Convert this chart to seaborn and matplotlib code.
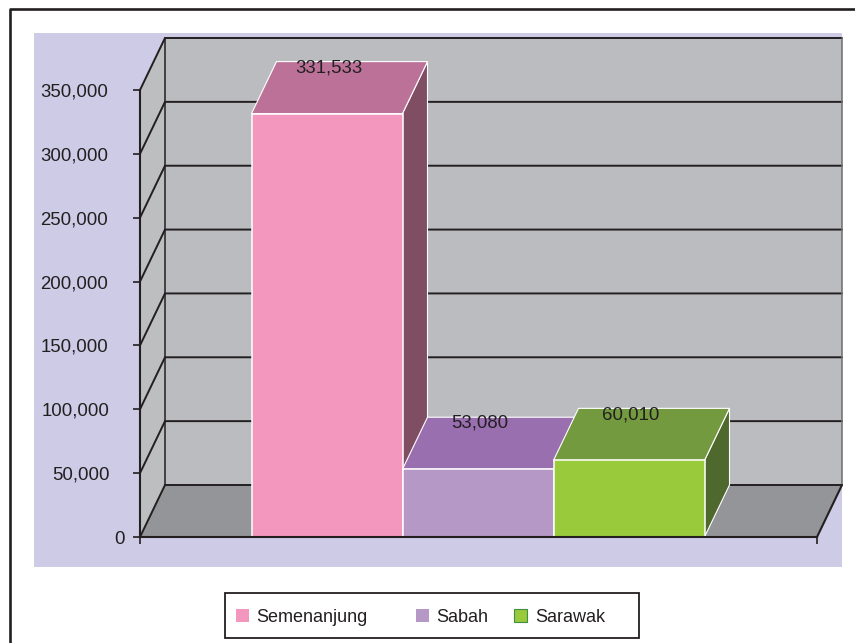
import matplotlib
matplotlib.use('Agg')
import matplotlib.pyplot as plt
from matplotlib.lines import Line2D
from matplotlib.patches import Polygon, Rectangle
import seaborn as sns

# Values
regions = ['Semenanjung', 'Sabah', 'Sarawak']
values = [331533, 53080, 60010]
y_ticks = [0, 50000, 100000, 150000, 200000, 250000, 300000, 350000]
y_pads = [6, 17, 17, 18, 18, 18, 18, 18]

front_colors = ['#F497BE', '#B598C6', '#99CA3C']
top_colors = ['#BC7298', '#9A6FB0', '#739A3F']
side_colors = ['#804E63', '#6E4F80', '#4F682D']

W, H = 855, 643
INK = '#231F20'

sns.set_style('white')
plt.rcParams['font.family'] = ['Liberation Sans', 'DejaVu Sans']


def fx(px):
    return px / W


def fy(py):
    return 1 - py / H


fig = plt.figure(figsize=(W / 100, H / 100), dpi=100)
fig.patch.set_facecolor('white')

# Front plane of the 3D box, the walls stick out from it
ax = fig.add_axes([fx(140), fy(537), fx(817 - 140), (537 - 90) / H])
ax.patch.set_visible(False)

# Lavender plot background
fig.add_artist(Rectangle((fx(34), fy(567)), fx(842 - 34), (567 - 33) / H,
                         transform=fig.transFigure, facecolor='#CDCBE6',
                         edgecolor='none', zorder=-1))

# Outer frame, open to the right and bottom
fig.add_artist(Line2D([fx(10), fx(10), fx(855)], [fy(643), fy(9), fy(9)],
                      transform=fig.transFigure, color=INK, lw=1.9, zorder=-1))

# Bars first, they set the category positions
sns.barplot(x=regions, y=values, hue=regions, palette=front_colors, width=1,
            dodge=False, saturation=1, legend=False, edgecolor='white',
            linewidth=1.1, ax=ax)
bars = sorted(ax.patches, key=lambda b: b.get_x())

px_per_cat = 151
x0 = (140 - 327) / px_per_cat
x1 = (817 - 327) / px_per_cat
y_max = y_ticks[-1]
ax.set_xlim(x0, x1)
ax.set_ylim(0, y_max)

# Depth of the box in data units
dx = 25 / px_per_cat
dy = 52 / (537 - 90) * y_max

# Walls and floor
ax.add_patch(Polygon([(x0 + dx, dy), (x1 + dx, dy), (x1 + dx, y_max + dy), (x0 + dx, y_max + dy)],
                     facecolor='#BBBCBF', edgecolor='none', zorder=1, clip_on=False))
ax.add_patch(Polygon([(x0, 0), (x0 + dx, dy), (x0 + dx, y_max + dy), (x0, y_max)],
                     facecolor='#BDBEC0', edgecolor='none', zorder=1, clip_on=False))
ax.add_patch(Polygon([(x0, 0), (x1, 0), (x1 + dx, dy), (x0 + dx, dy)],
                     facecolor='#939598', edgecolor='none', zorder=1, clip_on=False))

# Grid lines, running along the left wall then the back wall
for v in y_ticks:
    ax.plot([x0, x0 + dx, x1 + dx], [v, v + dy, v + dy], color=INK, lw=1.4,
            zorder=2, clip_on=False, solid_joinstyle='miter')
ax.plot([x0 + dx, x0 + dx], [dy, y_max + dy], color=INK, lw=1.1, zorder=2, clip_on=False)
ax.plot([x1 + dx, x1 + dx], [dy, y_max + dy], color='#6D6E71', lw=1.1, zorder=2, clip_on=False)
ax.plot([x1, x1 + dx], [0, dy], color=INK, lw=1.5, zorder=2, clip_on=False)

# Top and side faces taken from the bars seaborn drew, left to right
for i, bar in enumerate(bars):
    left = bar.get_x()
    right = left + bar.get_width()
    top = bar.get_height()
    base_z = 3 + i
    bar.set_zorder(base_z + 0.2)
    ax.add_patch(Polygon([(right, 0), (right + dx, dy), (right + dx, top + dy), (right, top)],
                         facecolor=side_colors[i], edgecolor='white', lw=0.8,
                         zorder=base_z, clip_on=False))
    ax.add_patch(Polygon([(left, top), (right, top), (right + dx, top + dy), (left + dx, top + dy)],
                         facecolor=top_colors[i], edgecolor='white', lw=0.8,
                         zorder=base_z + 0.1, clip_on=False))
    ax.annotate(f'{values[i]:,}', xy=(left + bar.get_width() / 2, top + dy),
                xytext=(1.5, -4.5), textcoords='offset points', ha='center', va='center',
                fontsize=13.4, color=INK, zorder=10, annotation_clip=False)

# Axes
sns.despine(ax=ax, top=True, right=True)
for side in ['left', 'bottom']:
    ax.spines[side].set_color(INK)
    ax.spines[side].set_linewidth(1.5)
    ax.spines[side].set_zorder(9)
ax.set_yticks(y_ticks, [f'{v:,}' for v in y_ticks])
ax.set_xticks([x0, x1], ['', ''])
ax.tick_params(axis='both', length=5, width=1.2, color=INK, left=True, bottom=True,
               labelsize=13.4, labelcolor=INK)
for tick, pad in zip(ax.yaxis.get_major_ticks(), y_pads):
    tick.set_pad(pad)
ax.set_xlabel('')
ax.set_ylabel('')

# Legend box, spacing in the original is uneven so it is placed by hand
fig.add_artist(Rectangle((fx(225), fy(638)), fx(639 - 225), (638 - 593) / H,
                         transform=fig.transFigure, facecolor='white',
                         edgecolor=INK, lw=1.3, zorder=5))
swatch_x = [236, 416, 514]
label_x = [256, 436, 535]
for i, name in enumerate(regions):
    edge = '#3F8F3F' if i == 2 else 'none'
    fig.add_artist(Rectangle((fx(swatch_x[i]), fy(622)), fx(13), 13 / H,
                             transform=fig.transFigure, facecolor=front_colors[i],
                             edgecolor=edge, lw=0.8, zorder=6))
    fig.text(fx(label_x[i]), fy(617), name, fontsize=13, color=INK, va='center',
             ha='left', zorder=6)

fig.savefig('out.png', dpi=100)
